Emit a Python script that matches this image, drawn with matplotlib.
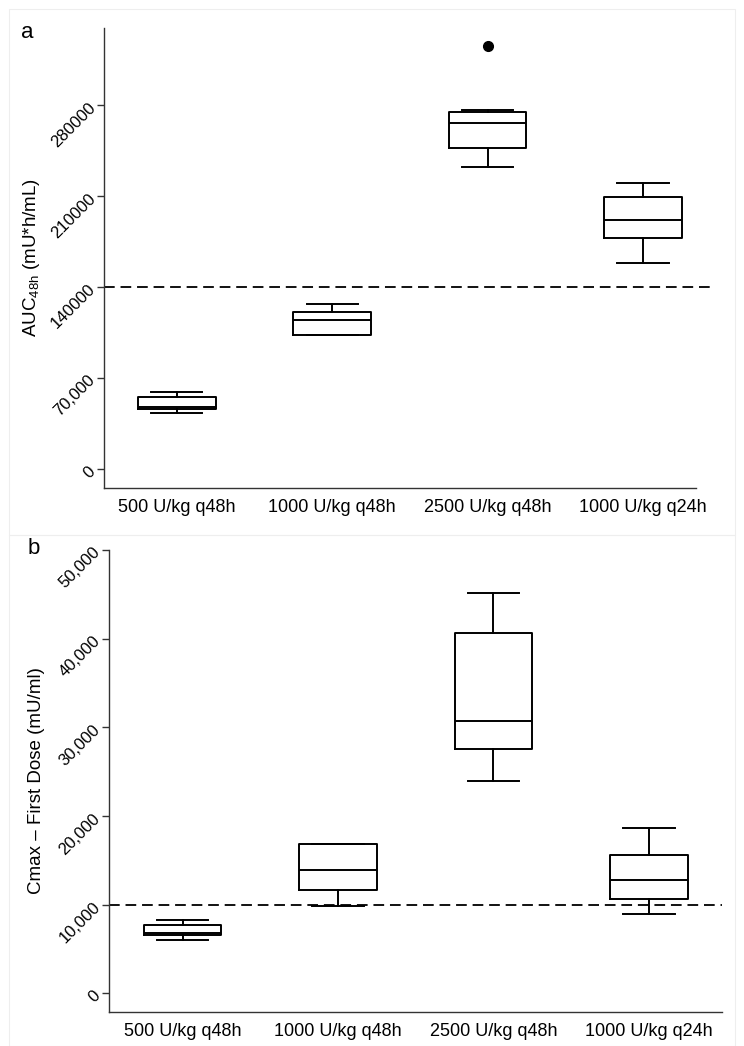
import matplotlib
matplotlib.use('Agg')
import matplotlib.pyplot as plt
from matplotlib.patches import Rectangle

plt.rcParams['font.family'] = ['Liberation Sans', 'DejaVu Sans']
plt.rcParams['mathtext.default'] = 'regular'

groups = ['500 U/kg q48h', '1000 U/kg q48h', '2500 U/kg q48h', '1000 U/kg q24h']

# panel a: AUC48h (mU*h/mL)
auc_whislo = [42800, 103100, 232300, 158700]
auc_q1 = [45900, 103100, 246700, 177700]
auc_med = [47900, 114400, 266400, 191500]
auc_q3 = [55100, 120500, 274600, 209500]
auc_whishi = [59200, 126900, 276400, 219800]
auc_fliers = [[], [], [325400], []]
auc_ref = 140000
auc_ticks = [0, 70000, 140000, 210000, 280000]
auc_ticklabels = ['0', '70,000', '140000', '210000', '280000']

# panel b: Cmax - first dose (mU/ml)
cmax_whislo = [6040, 9810, 23900, 8940]
cmax_q1 = [6600, 11650, 27510, 10600]
cmax_med = [6830, 13870, 30700, 12740]
cmax_q3 = [7730, 16870, 40650, 15590]
cmax_whishi = [8300, 16870, 45100, 18600]
cmax_fliers = [[], [], [], []]
cmax_ref = 10000
cmax_ticks = [0, 10000, 20000, 30000, 40000, 50000]
cmax_ticklabels = ['0', '10,000', '20,000', '30,000', '40,000', '50,000']


def make_stats(lo, q1, med, q3, hi, fl):
    return [dict(whislo=a, q1=b, med=c, q3=d, whishi=e, fliers=f)
            for a, b, c, d, e, f in zip(lo, q1, med, q3, hi, fl)]


def draw_panel(ax, stats, ref, ticks, ticklabels, ylabel, xlim, ylim, label_x):
    lw = 1.4
    line = dict(color='black', linewidth=lw)
    ax.bxp(stats, positions=[1, 2, 3, 4], widths=0.5, capwidths=0.33,
           boxprops=line, medianprops=line, whiskerprops=line, capprops=line,
           flierprops=dict(marker='o', markerfacecolor='black', markeredgecolor='black',
                           markersize=7), manage_ticks=False)
    ax.axhline(ref, color='#111111', linewidth=1.4, dashes=(5.5, 3), zorder=1)
    ax.set_xlim(*xlim)
    ax.set_ylim(*ylim)
    ax.set_xticks([1, 2, 3, 4])
    ax.set_xticklabels(groups, fontsize=13)
    ax.tick_params(axis='x', length=0, pad=8)
    ax.set_yticks(ticks)
    ax.set_yticklabels(ticklabels, fontsize=12, rotation=45, ha='right', va='center',
                       rotation_mode='anchor')
    ax.tick_params(axis='y', length=5, width=1, color='#333333', pad=3)
    ax.set_ylabel(ylabel, fontsize=13.5)
    ax.yaxis.set_label_coords(label_x, 0.5)
    for s in ['top', 'right']:
        ax.spines[s].set_visible(False)
    for s in ['left', 'bottom']:
        ax.spines[s].set_color('#333333')
        ax.spines[s].set_linewidth(1.0)


fig = plt.figure(figsize=(7.44, 10.46), dpi=100)

# faint panel frames
fig.patches.append(Rectangle((9 / 744, 1 - 535 / 1046), 726 / 744, 526 / 1046,
                             transform=fig.transFigure, fill=False,
                             edgecolor='#eeeeee', linewidth=0.8))
fig.patches.append(Rectangle((9 / 744, 0.0), 726 / 744, 1 - 535 / 1046,
                             transform=fig.transFigure, fill=False,
                             edgecolor='#eeeeee', linewidth=0.8))

ax1 = fig.add_axes([0.1398, 0.5335, 0.8212, 0.440])
draw_panel(ax1, make_stats(auc_whislo, auc_q1, auc_med, auc_q3, auc_whishi, auc_fliers),
           auc_ref, auc_ticks, auc_ticklabels, r'AUC$_{48h}$ (mU*h/mL)',
           (0.532, 4.463), (-14600, 339500), -0.1015)
ax1.spines['bottom'].set_bounds(0.532, 4.34)

ax2 = fig.add_axes([0.1465, 0.0328, 0.824, 0.4414])
draw_panel(ax2, make_stats(cmax_whislo, cmax_q1, cmax_med, cmax_q3, cmax_whishi, cmax_fliers),
           cmax_ref, cmax_ticks, cmax_ticklabels, 'Cmax – First Dose (mU/ml)',
           (0.527, 4.47), (-2075, 50000), -0.104)

fig.text(21 / 744, 1 - 33 / 1046, 'a', fontsize=16, va='center', ha='left')
fig.text(28 / 744, 1 - 548 / 1046, 'b', fontsize=16, va='center', ha='left')

fig.savefig('out.png', dpi=100)
